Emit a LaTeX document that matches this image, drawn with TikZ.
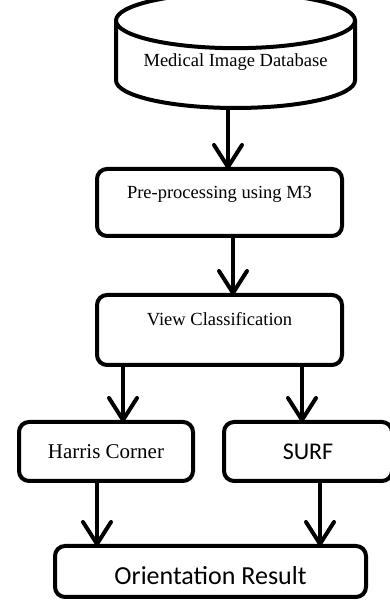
\documentclass[tikz,border=0pt]{standalone}
\usepackage{fontspec}
\setmainfont{Liberation Serif}
\newfontfamily\calibri{Carlito}
\usetikzlibrary{shapes.geometric, arrows.meta, positioning}

\begin{document}
\begin{tikzpicture}[
  x=1pt, y=1pt,
  every node/.style={font=\fontsize{18.5}{20}\selectfont},
  database/.style={cylinder, shape border rotate=90, draw, line width=4pt, aspect=0.29, minimum width=239pt, minimum height=101pt, outer sep=0pt},
  stepbox/.style={rectangle, draw, rounded corners=10pt, line width=4pt, outer sep=0pt},
  arrow/.style={-{Straight Barb[length=22pt, width=28pt, round]}, line width=4pt}
]
\useasboundingbox (0,0) rectangle (389,-602);

% Database at the top
\node[database, text height=13pt, text depth=17pt] (db) at (235.5,-68.5) {Medical Image Database};

% Processing chain
\node[stepbox, minimum width=245pt, minimum height=67pt, text height=13pt, text depth=21pt,
      below=61pt of db, xshift=-16pt] (pre) {Pre-processing using M3};
\node[stepbox, minimum width=245pt, minimum height=70pt, text height=13pt, text depth=21pt,
      below=59pt of pre] (view) {View Classification};

% Two feature detectors side by side
\node[stepbox, minimum width=174pt, minimum height=59pt, font=\fontsize{21}{23}\selectfont,
      below=57pt of view, xshift=-113.5pt] (harris) {Harris Corner};
\node[stepbox, minimum width=168pt, minimum height=59pt, font=\calibri\fontsize{24}{26}\selectfont,
      right=31pt of harris] (surf) {SURF};

% Final result
\node[stepbox, minimum width=311pt, minimum height=51pt, text height=27pt, text depth=0pt,
      font=\calibri\fontsize{26}{28}\selectfont,
      below=65pt of harris, xshift=104.5pt] (orient) {Orientation Result};

% Arrows
\draw[arrow] ([xshift=-7.5pt]db.south) -- ([xshift=-7.5pt]db.south |- pre.north);
\draw[arrow] ([xshift=13.5pt]pre.south) -- ([xshift=13.5pt]pre.south |- view.north);
\draw[arrow] ([xshift=-96.5pt]view.south) -- ([xshift=-96.5pt]view.south |- harris.north);
\draw[arrow] ([xshift=82.5pt]view.south) -- ([xshift=82.5pt]view.south |- surf.north);
\draw[arrow] ([xshift=-9pt]harris.south) -- ([xshift=-9pt]harris.south |- orient.north);
\draw[arrow] ([xshift=12pt]surf.south) -- ([xshift=12pt]surf.south |- orient.north);

\end{tikzpicture}
\end{document}
